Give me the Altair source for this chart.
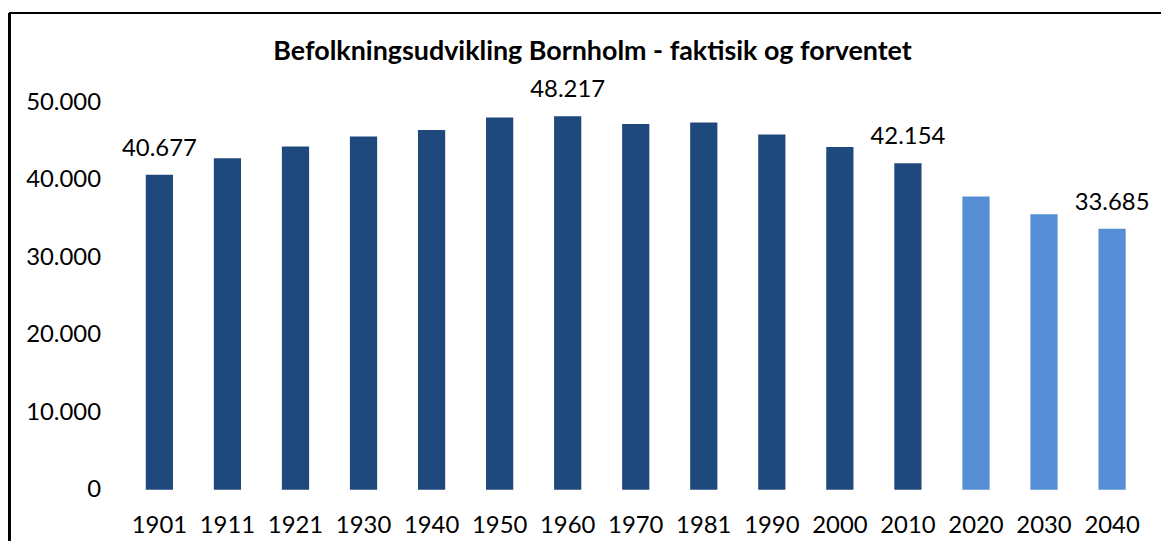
import altair as alt
import pandas as pd

title_text = "Befolkningsudvikling Bornholm - faktisik og forventet"
years = ["1901", "1911", "1921", "1930", "1940", "1950", "1960", "1970",
         "1981", "1990", "2000", "2010", "2020", "2030", "2040"]
population = [40677, 42800, 44300, 45600, 46450, 48050, 48217, 47200,
              47400, 45850, 44250, 42154, 37850, 35550, 33685]
kind = ["faktisk"] * 12 + ["forventet"] * 3
labelled_years = ["1901", "1960", "2010", "2040"]

df = pd.DataFrame({"year": years, "pop": population, "kind": kind})
df["show"] = df["year"].isin(labelled_years)

W = 1026.2
H = 389.3
FONT = "Lato"
FS = 24

x_enc = alt.X("year:N", sort=years, title=None,
              scale=alt.Scale(paddingInner=0.6, paddingOuter=0.3),
              axis=alt.Axis(labelAngle=0, ticks=False, domain=False, grid=False,
                            labelFontSize=FS, labelFont=FONT, labelColor="black",
                            labelPadding=24))
y_enc = alt.Y("pop:Q", title=None,
              scale=alt.Scale(domain=[0, 50000], nice=False),
              axis=alt.Axis(values=[0, 10000, 20000, 30000, 40000, 50000],
                            ticks=False, domain=False, grid=False,
                            labelFontSize=FS, labelFont=FONT, labelColor="black",
                            labelPadding=25,
                            labelExpr="replace(format(datum.value, ','), ',', '.')"))

base = alt.Chart(df)

bars = base.mark_bar().encode(
    x=x_enc,
    y=y_enc,
    color=alt.Color("kind:N",
                    scale=alt.Scale(domain=["faktisk", "forventet"],
                                    range=["#1F497D", "#558ED5"]),
                    legend=None),
)

labels = base.transform_filter("datum.show").transform_calculate(
    lbl="replace(format(datum.pop, ','), ',', '.')"
).mark_text(dy=-19, baseline="alphabetic", fontSize=FS, font=FONT, color="black").encode(
    x=alt.X("year:N", sort=years),
    y="pop:Q",
    text="lbl:N",
)

title = alt.Chart(pd.DataFrame({"t": [title_text]})).mark_text(
    fontSize=27, font=FONT, fontWeight="bold", color="black",
    align="center", baseline="alphabetic"
).encode(text="t:N", x=alt.value(469.7), y=alt.value(-43.1))

frame_top = base.mark_rule(color="black", strokeWidth=2).encode(
    x=alt.value(-116.8), x2=alt.value(1040.7), y=alt.value(-89.9)
)
frame_left = base.mark_rule(color="black", strokeWidth=2).encode(
    x=alt.value(-116.8), y=alt.value(-89.9), y2=alt.value(440.6)
)

chart = alt.layer(bars, labels, title, frame_top, frame_left).properties(
    width=W, height=H,
    padding={"left": 0, "top": 2.5, "right": 0, "bottom": 0},
).configure_view(stroke=None)

chart.save("out.html", embed_options={"renderer": "svg", "actions": False})
